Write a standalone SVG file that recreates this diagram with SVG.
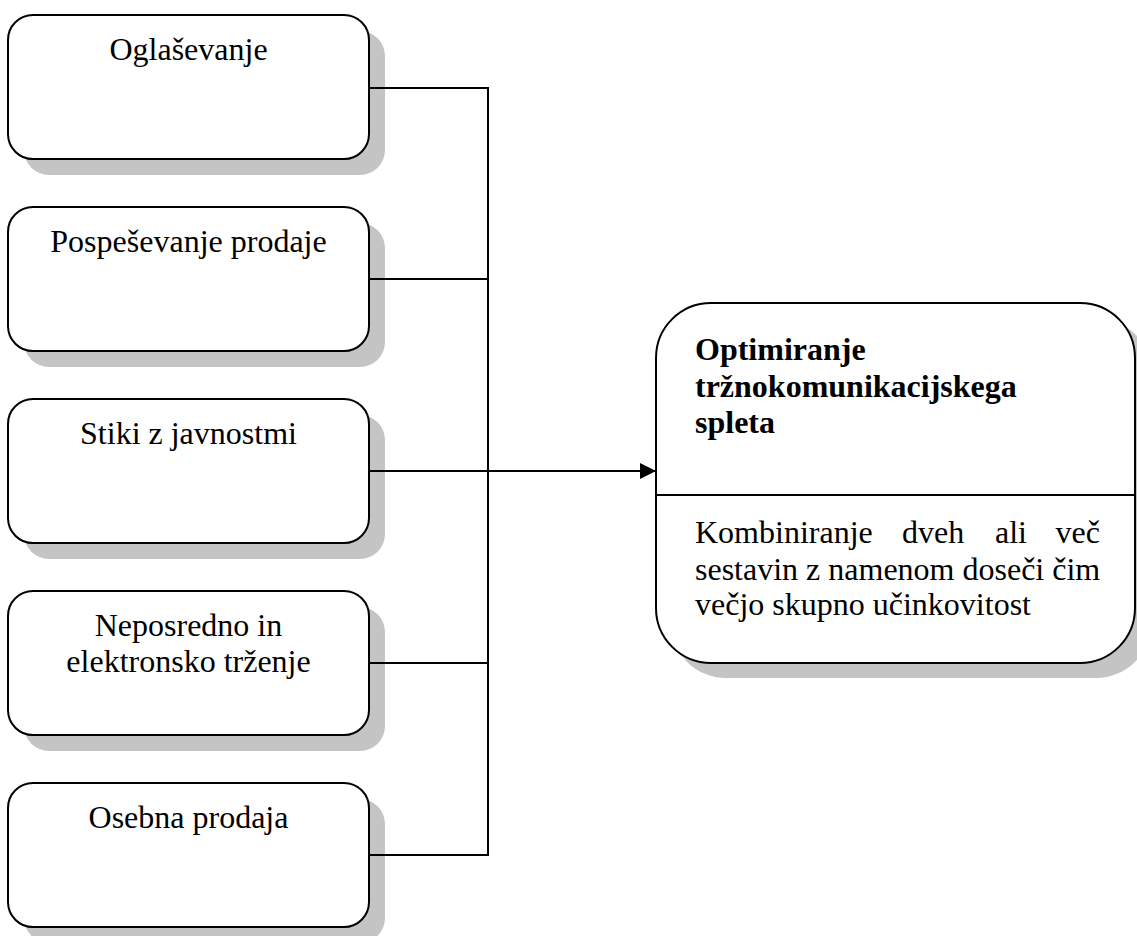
<svg xmlns="http://www.w3.org/2000/svg" width="1137" height="936" viewBox="0 0 1137 936">
<style>
.shadow{fill:#c4c4c4;stroke:none}
.box{fill:#fff;stroke:#000;stroke-width:2}
.t{font-family:"Liberation Serif",serif;font-size:32px;fill:#000}
.c{text-anchor:middle}
.b{font-weight:bold}
.ln{fill:none;stroke:#000;stroke-width:2}
</style>
<defs>
<marker id="arr" markerWidth="16" markerHeight="16" refX="16" refY="8" orient="auto" markerUnits="userSpaceOnUse">
<path d="M0,0 L16,8 L0,16 Z" fill="#000"/>
</marker>
</defs>
<g id="n1">
<rect class="shadow" x="24" y="31" width="361" height="144" rx="25"/>
<rect class="box" x="8" y="15" width="361" height="144" rx="25"/>
<text class="t c" x="188.5" y="60">Oglaševanje</text>
</g>
<g id="n2">
<rect class="shadow" x="24" y="223" width="361" height="144" rx="25"/>
<rect class="box" x="8" y="207" width="361" height="144" rx="25"/>
<text class="t c" x="188.5" y="252">Pospeševanje prodaje</text>
</g>
<g id="n3">
<rect class="shadow" x="24" y="415" width="361" height="144" rx="25"/>
<rect class="box" x="8" y="399" width="361" height="144" rx="25"/>
<text class="t c" x="188.5" y="444">Stiki z javnostmi</text>
</g>
<g id="n4">
<rect class="shadow" x="24" y="607" width="361" height="144" rx="25"/>
<rect class="box" x="8" y="591" width="361" height="144" rx="25"/>
<text class="t c" x="188.5" y="636">Neposredno in</text>
<text class="t c" x="188.5" y="672">elektronsko trženje</text>
</g>
<g id="n5">
<rect class="shadow" x="24" y="799" width="361" height="144" rx="25"/>
<rect class="box" x="8" y="783" width="361" height="144" rx="25"/>
<text class="t c" x="188.5" y="828">Osebna prodaja</text>
</g>
<g id="n6">
<rect class="shadow" x="671" y="318" width="480" height="360" rx="55"/>
<rect class="box" x="656" y="303" width="479" height="360" rx="55"/>
<line class="ln" x1="656" y1="495" x2="1135" y2="495"/>
<text class="t b" x="695" y="360">Optimiranje</text>
<text class="t b" x="695" y="397">tržnokomunikacijskega</text>
<text class="t b" x="695" y="433">spleta</text>
<text class="t" x="695" y="543">Kombiniranje</text>
<text class="t" x="902" y="543">dveh</text>
<text class="t" x="995" y="543">ali</text>
<text class="t" x="1100" y="543" text-anchor="end">več</text>
<text class="t" x="695" y="580">sestavin z namenom doseči čim</text>
<text class="t" x="695" y="615">večjo skupno učinkovitost</text>
</g>
<g id="connectors">
<polyline class="ln" points="369,88 488,88 488,855 369,855"/>
<line class="ln" x1="369" y1="279" x2="488" y2="279"/>
<line class="ln" x1="369" y1="663" x2="488" y2="663"/>
<line class="ln" x1="369" y1="471" x2="656" y2="471" marker-end="url(#arr)"/>
</g>
</svg>
